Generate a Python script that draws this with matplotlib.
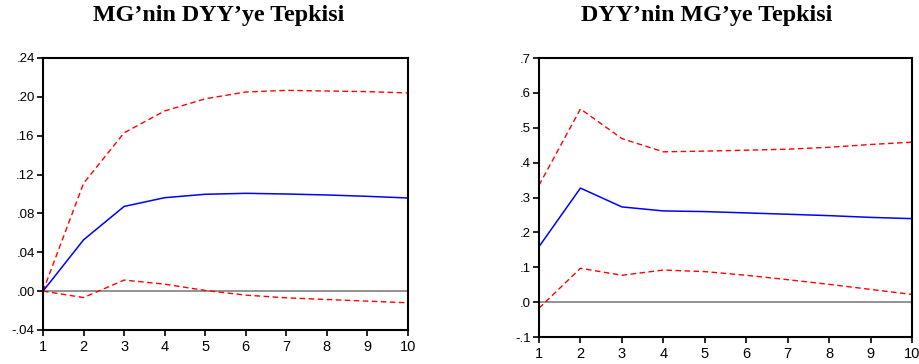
import numpy as np
import matplotlib
matplotlib.use("Agg")
import matplotlib.pyplot as plt

periods = np.arange(1, 11)

# MG'nin DYY'ye Tepkisi
mg_resp = [0.0, 0.0528, 0.0872, 0.0962, 0.0997, 0.1007, 0.1000, 0.0990, 0.0976, 0.0959]
mg_upper = [0.0, 0.111, 0.163, 0.1855, 0.198, 0.205, 0.2067, 0.206, 0.2054, 0.204]
mg_lower = [0.0, -0.0066, 0.0114, 0.0072, 0.0007, -0.0041, -0.0069, -0.0086, -0.0103, -0.012]

# DYY'nin MG'ye Tepkisi
dyy_resp = [0.159, 0.327, 0.273, 0.2615, 0.2596, 0.2558, 0.252, 0.248, 0.243, 0.2394]
dyy_upper = [0.335, 0.554, 0.469, 0.431, 0.433, 0.4356, 0.4385, 0.444, 0.452, 0.4587]
dyy_lower = [-0.0173, 0.097, 0.077, 0.092, 0.0875, 0.077, 0.0644, 0.051, 0.0365, 0.022]

left_ticks = [-0.04, 0.00, 0.04, 0.08, 0.12, 0.16, 0.20, 0.24]
left_labels = ["-.04", ".00", ".04", ".08", ".12", ".16", ".20", ".24"]
right_ticks = [-0.1, 0.0, 0.1, 0.2, 0.3, 0.4, 0.5, 0.6, 0.7]
right_labels = ["-.1", ".0", ".1", ".2", ".3", ".4", ".5", ".6", ".7"]

plt.rcParams["font.family"] = ["Liberation Sans", "DejaVu Sans"]

fig = plt.figure(figsize=(9.19, 3.64), dpi=100)
ax1 = fig.add_axes([43 / 919, 1 - 330 / 364, 365 / 919, 272 / 364])
ax2 = fig.add_axes([539 / 919, 1 - 337 / 364, 373 / 919, 279 / 364])


def draw_panel(ax, resp, upper, lower, ticks, labels):
    ax.axhline(0, color="#808080", lw=1.2, zorder=1)
    ax.plot(periods, upper, color="#ff0000", lw=1.0, dashes=(4, 2.5))
    ax.plot(periods, lower, color="#ff0000", lw=1.0, dashes=(4, 2.5))
    ax.plot(periods, resp, color="#0000ff", lw=1.1)
    ax.set_xlim(1, 10)
    ax.set_ylim(ticks[0], ticks[-1])
    ax.set_xticks(periods)
    ax.set_yticks(ticks)
    ax.set_yticklabels(labels)
    for s in ax.spines.values():
        s.set_linewidth(1.5)
        s.set_color("black")
    ax.tick_params(axis="x", direction="out", length=4, width=1.2, labelsize=10.5, pad=3)
    ax.tick_params(axis="y", direction="out", length=4, width=1.2, labelsize=9.5, pad=2)


draw_panel(ax1, mg_resp, mg_upper, mg_lower, left_ticks, left_labels)
draw_panel(ax2, dyy_resp, dyy_upper, dyy_lower, right_ticks, right_labels)

fig.text(219 / 919, 1 - 15 / 364, "MG\u2019nin DYY\u2019ye Tepkisi", ha="center", va="center",
         family="Liberation Serif", fontweight="bold", fontsize=17.3)
fig.text(707 / 919, 1 - 15 / 364, "DYY\u2019nin MG\u2019ye Tepkisi", ha="center", va="center",
         family="Liberation Serif", fontweight="bold", fontsize=17.3)

fig.savefig("out.png", dpi=100)
